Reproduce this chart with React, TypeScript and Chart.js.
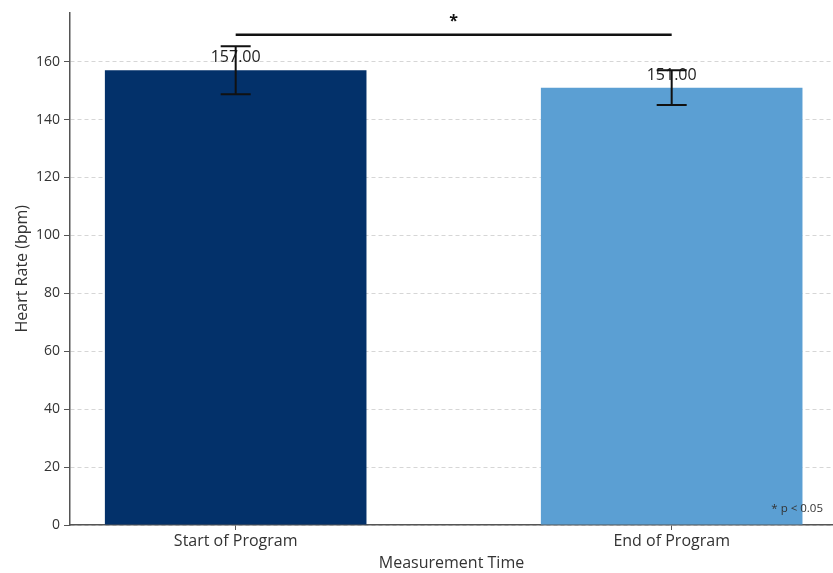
import React, { useEffect, useRef } from 'react';
import { Chart, registerables } from 'chart.js';

Chart.register(...registerables);

const categories = ['Start of Program', 'End of Program'];
const categoryPositions = [0, 1];
const meanHeartRates = [157, 151];
const errorValues = [8.3, 6.0];
const valueLabels = ['157.00', '151.00'];
const barColors = ['#03316a', '#5b9fd3'];
const yTickValues = [0, 20, 40, 60, 80, 100, 120, 140, 160];
const significanceLevel = 169.3;
const significanceMark = '*';
const footnote = '* p < 0.05';

const FONT = '"Open Sans", "DejaVu Sans", sans-serif';

const overlayPlugin = {
  id: 'overlay',
  afterDatasetsDraw(chart: any) {
    const { ctx, chartArea } = chart;
    const xs = chart.scales.x;
    const ys = chart.scales.y;
    ctx.save();
    // value labels
    ctx.font = `16px ${FONT}`;
    ctx.fillStyle = '#222';
    ctx.textAlign = 'center';
    ctx.textBaseline = 'alphabetic';
    meanHeartRates.forEach((v, i) => {
      const px = xs.getPixelForValue(categoryPositions[i]);
      ctx.fillText(valueLabels[i], px, ys.getPixelForValue(v) - 8);
    });
    // error bars
    ctx.strokeStyle = '#111';
    ctx.lineWidth = 2;
    meanHeartRates.forEach((v, i) => {
      const px = xs.getPixelForValue(categoryPositions[i]);
      const top = ys.getPixelForValue(v + errorValues[i]);
      const bot = ys.getPixelForValue(v - errorValues[i]);
      ctx.beginPath();
      ctx.moveTo(px, top);
      ctx.lineTo(px, bot);
      ctx.moveTo(px - 15, top);
      ctx.lineTo(px + 15, top);
      ctx.moveTo(px - 15, bot);
      ctx.lineTo(px + 15, bot);
      ctx.stroke();
    });
    // significance line
    const sy = ys.getPixelForValue(significanceLevel);
    const x0 = xs.getPixelForValue(categoryPositions[0]);
    const x1 = xs.getPixelForValue(categoryPositions[1]);
    ctx.lineWidth = 2.5;
    ctx.beginPath();
    ctx.moveTo(x0, sy);
    ctx.lineTo(x1, sy);
    ctx.stroke();
    ctx.font = `bold 16px ${FONT}`;
    ctx.fillStyle = '#111';
    ctx.textAlign = 'center';
    ctx.fillText(significanceMark, (x0 + x1) / 2, sy - 9);
    // footnote
    ctx.font = `11.5px ${FONT}`;
    ctx.fillStyle = '#333';
    ctx.textAlign = 'right';
    ctx.fillText(footnote, chartArea.right - 10, chartArea.bottom - 13);
    ctx.restore();
  },
};

export default function App() {
  const ref = useRef<HTMLCanvasElement>(null);
  useEffect(() => {
    if (!ref.current) return;
    const chart = new Chart(ref.current, {
      type: 'bar',
      data: {
        datasets: [
          {
            data: meanHeartRates.map((v, i) => ({ x: categoryPositions[i], y: v })),
            backgroundColor: barColors,
            borderWidth: 0,
            barPercentage: 0.6,
            categoryPercentage: 1,
          },
        ],
      },
      options: {
        responsive: false,
        animation: false,
        layout: { padding: { top: 12, right: 0, left: 0, bottom: 0 } },
        plugins: { legend: { display: false }, tooltip: { enabled: false } },
        scales: {
          x: {
            type: 'linear',
            min: -0.38,
            max: 1.37,
            offset: false,
            afterBuildTicks: (scale: any) => {
              scale.ticks = categoryPositions.map((v) => ({ value: v }));
            },
            afterFit: (scale: any) => {
              scale.height = 48;
            },
            ticks: {
              autoSkip: false,
              maxRotation: 0,
              padding: 2,
              color: '#333',
              font: { family: FONT, size: 16 },
              callback: (v: any) => {
                const i = categoryPositions.indexOf(Number(v));
                return i >= 0 ? categories[i] : '';
              },
            },
            grid: {
              offset: false,
              drawOnChartArea: false,
              drawTicks: true,
              tickLength: 5,
              tickColor: '#555',
            },
            border: { display: true, color: '#555', width: 1.5 },
            title: {
              display: true,
              text: 'Measurement Time',
              color: '#333',
              font: { family: FONT, size: 16 },
              padding: { top: 0, bottom: 0 },
            },
          },
          y: {
            type: 'linear',
            min: 0,
            max: 177,
            afterBuildTicks: (scale: any) => {
              scale.ticks = yTickValues.map((v) => ({ value: v }));
            },
            afterFit: (scale: any) => {
              scale.width = 70;
            },
            ticks: {
              padding: 4,
              color: '#333',
              font: { family: FONT, size: 14 },
            },
            grid: {
              color: 'rgba(0,0,0,0.16)',
              tickBorderDash: [],
              tickColor: '#555',
              tickLength: 6,
              lineWidth: 1,
            },
            border: { display: true, color: '#555', width: 1.5, dash: [4, 3] },
            title: {
              display: true,
              text: 'Heart Rate (bpm)',
              color: '#333',
              font: { family: FONT, size: 16 },
              padding: { top: 13, bottom: 0 },
            },
          },
        },
      },
      plugins: [overlayPlugin],
    } as any);
    return () => chart.destroy();
  }, []);
  return (
    <div style={{ position: 'fixed', left: 0, top: 0, width: 833, height: 573, background: '#fff' }}>
      <canvas ref={ref} width={833} height={573} style={{ width: 833, height: 573 }} />
    </div>
  );
}
